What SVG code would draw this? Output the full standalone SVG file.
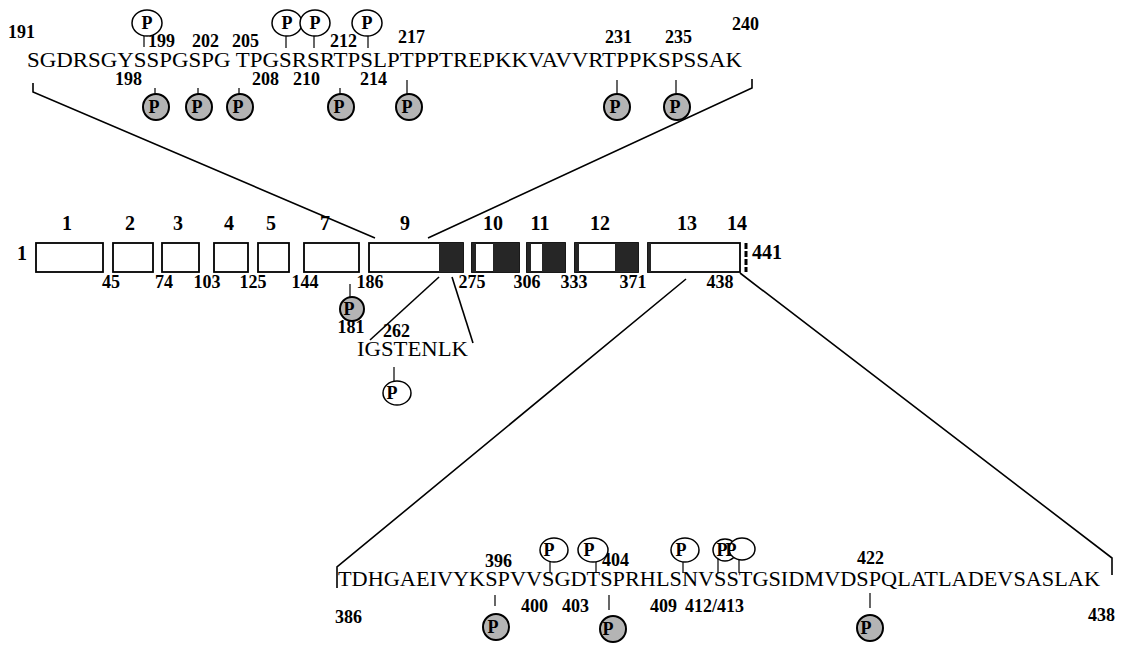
<svg xmlns="http://www.w3.org/2000/svg" width="1137" height="649" viewBox="0 0 1137 649">
<style>
text{font-family:"Liberation Serif","Times New Roman",serif;fill:#000}
.seq{font-size:21px}
.num{font-size:18px;font-weight:bold}
.lbl{font-size:20px;font-weight:bold}
.pl{font-size:18px;font-weight:bold;text-anchor:middle}
.ln{stroke:#000;stroke-width:1.6;fill:none}
.tk{stroke:#000;stroke-width:1.2;fill:none}
.box{fill:#fff;stroke:#000;stroke-width:1.8}
.dk{fill:#262626}
.po{fill:#fff;stroke:#000;stroke-width:1.5}
.pf{fill:#b4b4b4;stroke:#000;stroke-width:2}
</style>

<g id="connectors">
<polyline class="ln" points="33,83 33,92 375,238"/>
<polyline class="ln" points="752,79 752,88 428,238"/>
<line class="ln" x1="439" y1="277" x2="370" y2="340"/>
<line class="ln" x1="452" y1="277" x2="473" y2="343"/>
<polyline class="ln" points="686,279 337,567 337,588"/>
<polyline class="ln" points="740,273 1112,558 1112,575"/>
</g>

<g id="top-sequence">
<text class="num" x="8" y="38">191</text>
<text class="num" x="148" y="47">199</text>
<text class="num" x="192" y="47">202</text>
<text class="num" x="232" y="47">205</text>
<text class="num" x="330" y="47">212</text>
<text class="num" x="398" y="43">217</text>
<text class="num" x="605" y="43">231</text>
<text class="num" x="665" y="43">235</text>
<text class="num" x="732" y="30">240</text>
<text class="seq" x="27" y="67" textLength="715" lengthAdjust="spacingAndGlyphs">SGDRSGYSSPGSPG TPGSRSRTPSLPTPPTREPKKVAVVRTPPKSPSSAK</text>
<text class="num" x="115" y="85">198</text>
<text class="num" x="252" y="85">208</text>
<text class="num" x="293" y="85">210</text>
<text class="num" x="360" y="85">214</text>
</g>

<g id="top-open-P">
<line class="tk" x1="144" y1="36" x2="144" y2="47"/><ellipse class="po" cx="147" cy="23" rx="15" ry="13"/><text class="pl" x="147" y="29">P</text>
<line class="tk" x1="286" y1="36" x2="286" y2="48"/><ellipse class="po" cx="287" cy="23" rx="15" ry="13"/><text class="pl" x="287" y="29">P</text>
<line class="tk" x1="314" y1="36" x2="314" y2="48"/><ellipse class="po" cx="315" cy="23" rx="15" ry="13"/><text class="pl" x="315" y="29">P</text>
<line class="tk" x1="368" y1="36" x2="368" y2="48"/><ellipse class="po" cx="367" cy="23" rx="15" ry="13"/><text class="pl" x="367" y="29">P</text>
</g>

<g id="top-filled-P">
<line class="tk" x1="155" y1="88" x2="155" y2="96"/><circle class="pf" cx="156" cy="107" r="13"/><text class="pl" x="154" y="113">P</text>
<line class="tk" x1="198" y1="88" x2="198" y2="96"/><circle class="pf" cx="199" cy="107" r="13"/><text class="pl" x="197" y="113">P</text>
<line class="tk" x1="239" y1="88" x2="239" y2="96"/><circle class="pf" cx="240" cy="107" r="13"/><text class="pl" x="238" y="113">P</text>
<line class="tk" x1="340" y1="88" x2="340" y2="96"/><circle class="pf" cx="341" cy="107" r="13"/><text class="pl" x="339" y="113">P</text>
<line class="tk" x1="407" y1="80" x2="407" y2="96"/><circle class="pf" cx="409" cy="107" r="13"/><text class="pl" x="407" y="113">P</text>
<line class="tk" x1="617" y1="80" x2="617" y2="96"/><circle class="pf" cx="617" cy="107" r="13"/><text class="pl" x="615" y="113">P</text>
<line class="tk" x1="676" y1="80" x2="676" y2="96"/><circle class="pf" cx="677" cy="107" r="13"/><text class="pl" x="675" y="113">P</text>
</g>

<g id="exon-bar">
<text class="lbl" x="17" y="260">1</text>
<rect class="box" x="36" y="243" width="67" height="29"/>
<rect class="box" x="113" y="243" width="40" height="29"/>
<rect class="box" x="162" y="243" width="37" height="29"/>
<rect class="box" x="214" y="243" width="34" height="29"/>
<rect class="box" x="258" y="243" width="31" height="29"/>
<rect class="box" x="304" y="243" width="55" height="29"/>
<rect class="box" x="369" y="243" width="94" height="29"/>
<rect class="dk" x="439" y="243" width="24" height="29"/>
<rect class="box" x="472" y="243" width="47" height="29"/>
<rect class="dk" x="493" y="243" width="26" height="29"/>
<rect class="dk" x="472" y="243" width="4" height="29"/>
<rect class="box" x="527" y="243" width="38" height="29"/>
<rect class="dk" x="542" y="243" width="23" height="29"/>
<rect class="dk" x="527" y="243" width="4" height="29"/>
<rect class="box" x="575" y="243" width="63" height="29"/>
<rect class="dk" x="615" y="243" width="23" height="29"/>
<rect class="dk" x="575" y="243" width="4" height="29"/>
<rect class="box" x="648" y="243" width="92" height="29"/>
<rect class="dk" x="648" y="243" width="3" height="29"/>
<line x1="746" y1="243" x2="746" y2="272" stroke="#000" stroke-width="3" stroke-dasharray="6,2"/>
<text class="lbl" x="752" y="259">441</text>
<text class="lbl" x="67" y="230" text-anchor="middle">1</text>
<text class="lbl" x="130" y="230" text-anchor="middle">2</text>
<text class="lbl" x="178" y="230" text-anchor="middle">3</text>
<text class="lbl" x="229" y="230" text-anchor="middle">4</text>
<text class="lbl" x="271" y="230" text-anchor="middle">5</text>
<text class="lbl" x="325" y="230" text-anchor="middle">7</text>
<text class="lbl" x="405" y="230" text-anchor="middle">9</text>
<text class="lbl" x="493" y="230" text-anchor="middle">10</text>
<text class="lbl" x="540" y="230" text-anchor="middle">11</text>
<text class="lbl" x="600" y="230" text-anchor="middle">12</text>
<text class="lbl" x="687" y="230" text-anchor="middle">13</text>
<text class="lbl" x="737" y="230" text-anchor="middle">14</text>
<text class="num" x="111" y="288" text-anchor="middle">45</text>
<text class="num" x="164" y="288" text-anchor="middle">74</text>
<text class="num" x="207" y="288" text-anchor="middle">103</text>
<text class="num" x="253" y="288" text-anchor="middle">125</text>
<text class="num" x="305" y="288" text-anchor="middle">144</text>
<text class="num" x="370" y="288" text-anchor="middle">186</text>
<text class="num" x="472" y="288" text-anchor="middle">275</text>
<text class="num" x="527" y="288" text-anchor="middle">306</text>
<text class="num" x="574" y="288" text-anchor="middle">333</text>
<text class="num" x="633" y="288" text-anchor="middle">371</text>
<text class="num" x="720" y="288" text-anchor="middle">438</text>
</g>

<g id="site-181">
<line class="tk" x1="350" y1="284" x2="350" y2="297"/>
<circle class="pf" cx="352" cy="309" r="12"/><text class="pl" x="349" y="315">P</text>
<text class="num" x="351" y="333" text-anchor="middle">181</text>
</g>

<g id="insert-262">
<text class="num" x="383" y="337">262</text>
<text class="seq" x="357" y="356" textLength="111" lengthAdjust="spacingAndGlyphs">IGSTENLK</text>
<line class="tk" x1="394" y1="367" x2="394" y2="382"/>
<ellipse class="po" cx="397" cy="393" rx="14" ry="12"/><text class="pl" x="392" y="399">P</text>
</g>

<g id="bottom-sequence">
<text class="num" x="485" y="567">396</text>
<text class="num" x="602" y="566">404</text>
<text class="num" x="857" y="564">422</text>
<text class="seq" x="338" y="586" textLength="762" lengthAdjust="spacingAndGlyphs">TDHGAEIVYKSPVVSGDTSPRHLSNVSSTGSIDMVDSPQLATLADEVSASLAK</text>
<text class="num" x="521" y="612">400</text>
<text class="num" x="562" y="612">403</text>
<text class="num" x="650" y="612">409</text>
<text class="num" x="685" y="612">412/413</text>
<text class="num" x="335" y="623">386</text>
<text class="num" x="1088" y="621">438</text>
</g>

<g id="bottom-open-P">
<line class="tk" x1="550" y1="558" x2="550" y2="573"/><ellipse class="po" cx="554" cy="550" rx="14" ry="12"/><text class="pl" x="549" y="556">P</text>
<line class="tk" x1="596" y1="558" x2="596" y2="573"/><ellipse class="po" cx="593" cy="550" rx="15" ry="12"/><text class="pl" x="589" y="556">P</text>
<line class="tk" x1="683" y1="558" x2="683" y2="573"/><ellipse class="po" cx="685" cy="550" rx="14" ry="12"/><text class="pl" x="681" y="556">P</text>
<line class="tk" x1="718" y1="558" x2="718" y2="573"/><ellipse class="po" cx="725" cy="550" rx="12" ry="11"/><text class="pl" x="722" y="556">P</text>
<line class="tk" x1="739" y1="558" x2="739" y2="573"/><ellipse class="po" cx="742" cy="549" rx="13" ry="11"/><text class="pl" x="731" y="556">P</text>
</g>

<g id="bottom-filled-P">
<line class="tk" x1="495" y1="595" x2="495" y2="606"/><circle class="pf" cx="496" cy="627" r="13"/><text class="pl" x="493" y="633">P</text>
<line class="tk" x1="609" y1="595" x2="609" y2="610"/><circle class="pf" cx="613" cy="629" r="13"/><text class="pl" x="608" y="635">P</text>
<line class="tk" x1="870" y1="593" x2="870" y2="608"/><circle class="pf" cx="870" cy="628" r="13"/><text class="pl" x="866" y="634">P</text>
</g>
</svg>
